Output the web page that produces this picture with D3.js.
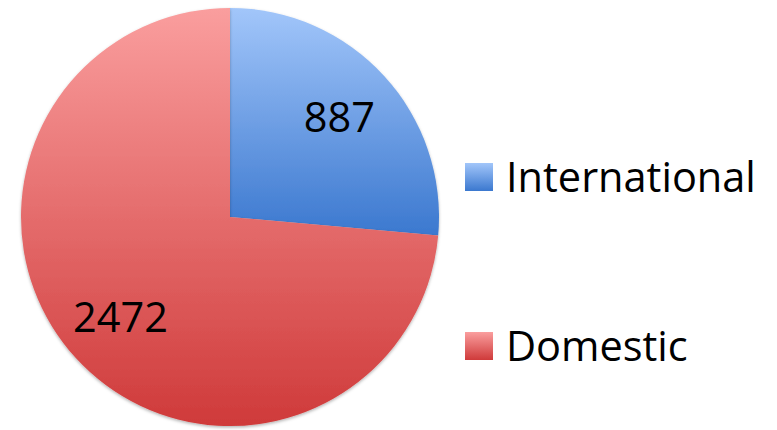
<!DOCTYPE html>
<html><head><meta charset="utf-8">
<script src="https://cdn.jsdelivr.net/npm/d3@7"></script>
<style>body{margin:0;background:#fff}svg{display:block}</style>
</head><body>
<svg id="c" width="777" height="430"></svg>
<script>
const categories = ["International", "Domestic"];
const values = [887, 2472];
const gradTop = ["#a2c6fa", "#fa9e9e"];
const gradBottom = ["#3b78cf", "#cf3a3a"];

const svg = d3.select("#c");
const defs = svg.append("defs");
categories.forEach((c, i) => {
  const g = defs.append("linearGradient").attr("id", "g" + i)
    .attr("x1", 0).attr("y1", 0).attr("x2", 0).attr("y2", 1);
  g.append("stop").attr("offset", "0%").attr("stop-color", gradTop[i]);
  g.append("stop").attr("offset", "100%").attr("stop-color", gradBottom[i]);
});
const f = defs.append("filter").attr("id", "sh").attr("x", "-10%").attr("y", "-10%").attr("width", "120%").attr("height", "120%");
f.append("feDropShadow").attr("dx", 0).attr("dy", 1.5).attr("stdDeviation", 1.5).attr("flood-color", "#000").attr("flood-opacity", 0.3);

const cx = 230, cy = 217, r = 209;
const pie = d3.pie().sort(null).value(d => d)(values);
const arc = d3.arc().innerRadius(0).outerRadius(r);
const g = svg.append("g").attr("transform", `translate(${cx},${cy})`);
g.selectAll("path.slice").data(pie).join("path").attr("class", "slice")
  .attr("d", arc).attr("fill", (d, i) => `url(#g${i})`).attr("filter", "url(#sh)");

const font = "Open Sans, sans-serif";
const fs = 41.5;
const lab = d3.arc().innerRadius(r * 0.71).outerRadius(r * 0.71);
g.selectAll("text.v").data(pie).join("text").attr("class", "v")
  .attr("transform", (d, i) => {
    const [x, y] = lab.centroid(d);
    return `translate(${x},${y})`;
  })
  .attr("text-anchor", "middle").attr("dy", "0.36em")
  .style("font-family", font).style("font-size", fs + "px").attr("fill", "#000")
  .text(d => d.data);

const leg = svg.append("g");
const ly = [177, 346];
categories.forEach((c, i) => {
  leg.append("rect").attr("x", 465).attr("y", ly[i] - 14).attr("width", 28).attr("height", 28)
    .attr("fill", `url(#g${i})`);
  leg.append("text").attr("x", 506).attr("y", ly[i] + 15)
    .style("font-family", font).style("font-size", fs + "px").attr("fill", "#000").text(c);
});
</script>
</body></html>
